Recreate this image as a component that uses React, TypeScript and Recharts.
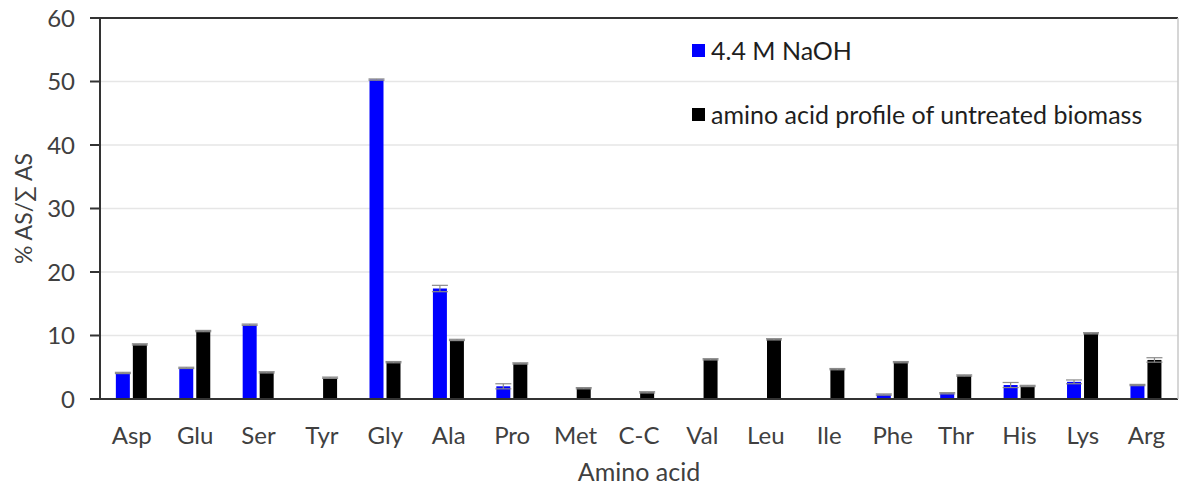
import { Bar, BarChart, CartesianGrid, ErrorBar, Legend, ReferenceLine, XAxis, YAxis } from "recharts";

const AMINO_ACIDS = ["Asp", "Glu", "Ser", "Tyr", "Gly", "Ala", "Pro", "Met", "C-C", "Val", "Leu", "Ile", "Phe", "Thr", "His", "Lys", "Arg"];
const NAOH = [4.1, 4.9, 11.7, 0, 50.3, 17.4, 2.0, 0, 0, 0, 0, 0, 0.7, 0.9, 2.2, 2.7, 2.2];
const NAOH_ERR = [0.1, 0.1, 0.1, 0, 0.1, 0.5, 0.4, 0, 0, 0, 0, 0, 0.1, 0.1, 0.4, 0.3, 0.1];
const UNTREATED = [8.6, 10.7, 4.2, 3.35, 5.8, 9.3, 5.6, 1.7, 1.05, 6.25, 9.4, 4.7, 5.8, 3.7, 2.05, 10.35, 6.15];
const UNTREATED_ERR = [0.1, 0.1, 0.1, 0.1, 0.1, 0.1, 0.1, 0.1, 0.1, 0.1, 0.1, 0.1, 0.1, 0.1, 0.1, 0.1, 0.35];
const Y_TICKS = [0, 10, 20, 30, 40, 50, 60];

const BLUE = "#0000ff";
const BLACK = "#000000";
const TEXT = "#404040";
const AXIS = "#333333";
const FONT = "Lato, Calibri, sans-serif";

const data = AMINO_ACIDS.map((name, i) => ({
  name,
  naoh: NAOH[i],
  naohErr: NAOH_ERR[i],
  untreated: UNTREATED[i],
  untreatedErr: UNTREATED_ERR[i],
}));

function LegendBox({ payload }: any) {
  return (
    <div style={{ fontFamily: FONT, fontSize: 25, color: "#1e1e1e" }}>
      {(payload || []).map((p: any, i: number) => (
        <div key={i} style={{ display: "flex", alignItems: "center", height: 30, marginBottom: i === 0 ? 34 : 0 }}>
          <span style={{ width: 13, height: 13, background: p.color, display: "inline-block", marginRight: 6 }} />
          <span>{p.value}</span>
        </div>
      ))}
    </div>
  );
}

export default function App() {
  return (
    <div style={{ position: "absolute", left: 0, top: 0, background: "#fff" }}>
      <BarChart
        width={1183}
        height={490}
        data={data}
        margin={{ top: 18, right: 0, left: 0, bottom: 0 }}
        barCategoryGap="25%"
        barGap={3}
        style={{ fontFamily: FONT }}
      >
        <CartesianGrid horizontal vertical={false} stroke="#e6e6e6" strokeWidth={1.5} />
        <XAxis
          dataKey="name"
          height={91}
          tickLine={false}
          axisLine={{ stroke: AXIS, strokeWidth: 2 }}
          tick={{ fill: TEXT, fontSize: 24 }}
          tickMargin={22}
          interval={0}
          label={{ value: "Amino acid", position: "insideBottom", offset: 9, fill: TEXT, fontSize: 25 }}
        />
        <YAxis
          width={100}
          domain={[0, 60]}
          ticks={Y_TICKS}
          tickSize={10}
          tickMargin={15}
          axisLine={{ stroke: AXIS, strokeWidth: 2 }}
          tickLine={{ stroke: AXIS, strokeWidth: 2 }}
          tick={{ fill: TEXT, fontSize: 24 }}
          label={{ value: "% AS/∑ AS", angle: -90, position: "insideLeft", offset: 24, fill: TEXT, fontSize: 23, style: { textAnchor: "middle" } }}
        />
        <YAxis
          yAxisId="frame"
          orientation="right"
          width={5}
          domain={[0, 60]}
          tick={false}
          tickLine={false}
          axisLine={{ stroke: "#c8c8c8", strokeWidth: 1.5 }}
        />
        <ReferenceLine y={60} stroke={AXIS} strokeWidth={2} />
        <Legend
          layout="horizontal"
          verticalAlign="middle"
          align="center"
          content={LegendBox}
          wrapperStyle={{ position: "absolute", top: 35, left: 692, width: 480 }}
        />
        <Bar dataKey="naoh" name="4.4 M NaOH" fill={BLUE} isAnimationActive={false}>
          <ErrorBar dataKey="naohErr" width={8} stroke="#8a8a8a" strokeWidth={1.2} />
        </Bar>
        <Bar dataKey="untreated" name="amino acid profile of untreated biomass" fill={BLACK} isAnimationActive={false}>
          <ErrorBar dataKey="untreatedErr" width={8} stroke="#8a8a8a" strokeWidth={1.2} />
        </Bar>
      </BarChart>
    </div>
  );
}
